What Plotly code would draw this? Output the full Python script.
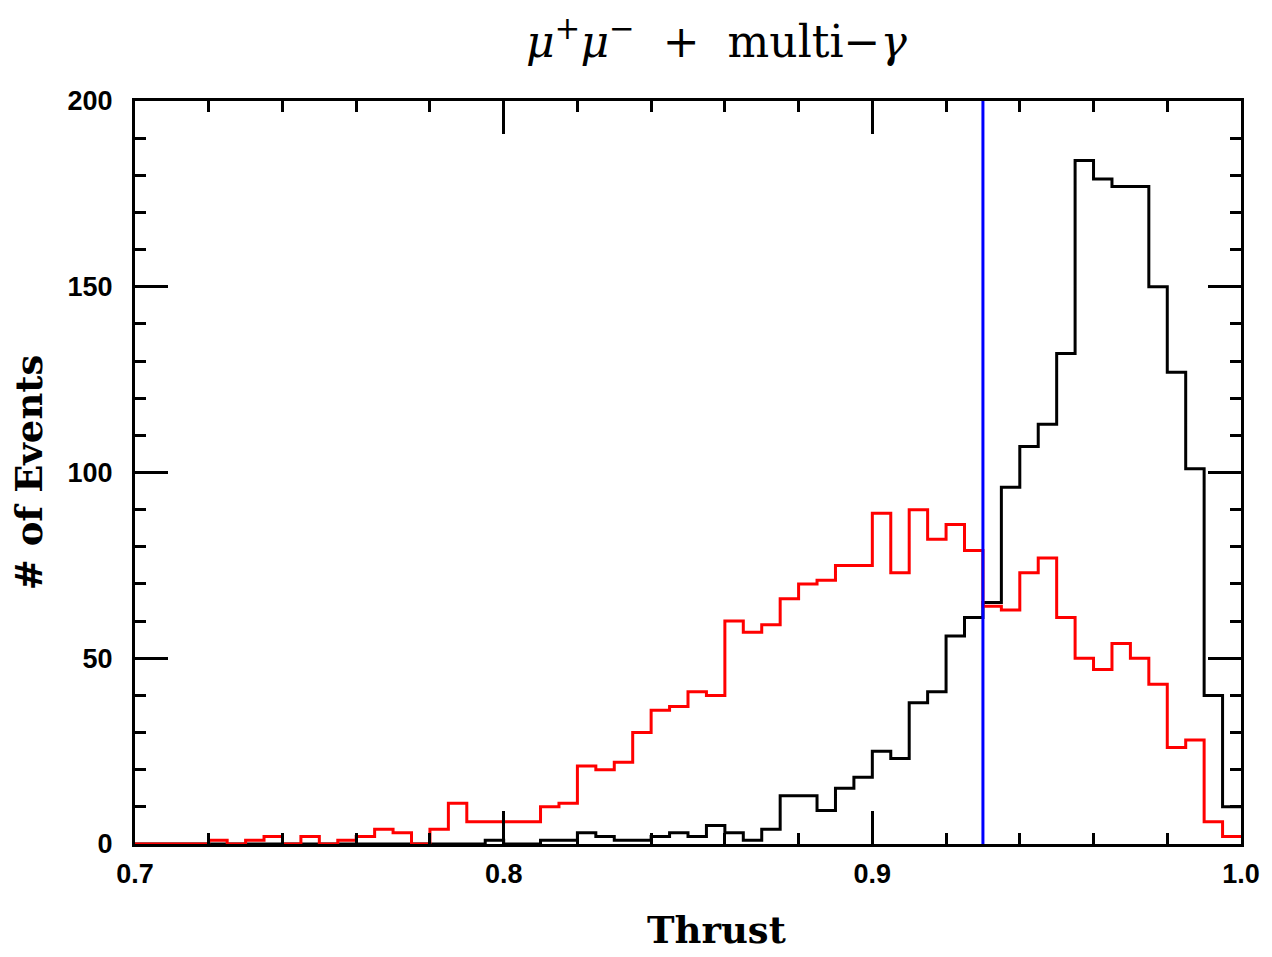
import numpy as np
import plotly.graph_objects as go

# Thrust histogram: 60 bins from 0.70 to 1.00
thrust_lo = 0.70
thrust_hi = 1.00
n_bins = 60

# Signal sample (black) and mu+mu- + multi-gamma background (red), events per bin
signal_counts = [
    0, 0, 0, 0, 0, 0, 0, 0, 0, 0,
    0, 0, 0, 0, 0, 0, 0, 0, 0, 1,
    0, 0, 1, 1, 3, 2, 1, 1, 2, 3,
    2, 5, 3, 1, 4, 13, 13, 9, 15, 18,
    25, 23, 38, 41, 56, 61, 65, 96, 107, 113,
    132, 184, 179, 177, 177, 150, 127, 101, 40, 10,
]
mumu_counts = [
    0, 0, 0, 0, 1, 0, 1, 2, 0, 2,
    0, 1, 2, 4, 3, 0, 4, 11, 6, 6,
    6, 6, 10, 11, 21, 20, 22, 30, 36, 37,
    41, 40, 60, 57, 59, 66, 70, 71, 75, 75,
    89, 73, 90, 82, 86, 79, 64, 63, 73, 77,
    61, 50, 47, 54, 50, 43, 26, 28, 6, 2,
]

# Selection cut on thrust
thrust_cut = 0.93

x_ticks = [0.7, 0.8, 0.9, 1.0]
x_ticktext = ["0.7", "0.8", "0.9", "1.0"]
y_ticks = [0, 50, 100, 150, 200]

edges = np.linspace(thrust_lo, thrust_hi, n_bins + 1)


def step_xy(counts):
    """Stair outline for a histogram: one point per bin edge."""
    y = list(counts) + [counts[-1]]
    return list(edges), y


fig = go.Figure()

sx, sy = step_xy(signal_counts)
fig.add_trace(go.Scatter(
    x=sx, y=sy, mode="lines", line=dict(color="#000000", width=3, shape="hv"),
    name="signal", showlegend=False,
))
rx, ry = step_xy(mumu_counts)
fig.add_trace(go.Scatter(
    x=rx, y=ry, mode="lines", line=dict(color="#ff0000", width=3, shape="hv"),
    name="mumu", showlegend=False,
))

fig.add_shape(
    type="line", xref="x", yref="paper", x0=thrust_cut, x1=thrust_cut, y0=0, y1=1,
    line=dict(color="#0000ff", width=3),
)

tick_font = dict(family="Liberation Sans, Arial, sans-serif", size=27, color="black", weight="bold")
label_font = dict(family="DejaVu Serif, serif", size=37, color="black", weight="bold")

# Plot area in pixels
L, R, T, B = 135, 1248, 101, 844
W, H = 1272, 957

fig.update_layout(
    width=W,
    height=H,
    margin=dict(l=L, r=W - R, t=T, b=H - B),
    paper_bgcolor="white",
    plot_bgcolor="white",
    showlegend=False,
    title=dict(
        text="<i>μ</i><sup>+</sup><i>μ</i><sup>−</sup>&nbsp; +&nbsp; multi−<i>γ</i>",
        font=dict(family="DejaVu Serif, Liberation Serif, serif", size=44, color="black"),
        x=(720 - L) / (R - L), xref="paper", xanchor="center",
        y=1 - 42 / H, yref="container", yanchor="middle",
    ),
    xaxis=dict(
        range=[thrust_lo, thrust_hi],
        tickvals=x_ticks, ticktext=x_ticktext,
        ticks="inside", ticklen=33, tickwidth=3, tickcolor="black",
        minor=dict(dtick=0.02, tick0=thrust_lo, ticks="inside", ticklen=11,
                   tickwidth=3, tickcolor="black", showgrid=False),
        showline=True, linewidth=3, linecolor="black", mirror="ticks",
        showgrid=False, zeroline=False,
        tickfont=tick_font, ticklabelstandoff=4,
    ),
    yaxis=dict(
        range=[0, 200],
        tickvals=y_ticks,
        ticks="inside", ticklen=33, tickwidth=3, tickcolor="black",
        minor=dict(dtick=10, tick0=0, ticks="inside", ticklen=11,
                   tickwidth=3, tickcolor="black", showgrid=False),
        showline=True, linewidth=3, linecolor="black", mirror="ticks",
        showgrid=False, zeroline=False,
        tickfont=tick_font, ticklabelstandoff=14,
        title=dict(text="# of Events", font=label_font, standoff=14),
    ),
)

fig.add_annotation(
    text="Thrust", xref="paper", yref="paper",
    x=(720 - L) / (R - L), y=-(954 - B) / (B - T),
    xanchor="center", yanchor="bottom", showarrow=False, font=label_font,
)

fig.write_html("out.html")
